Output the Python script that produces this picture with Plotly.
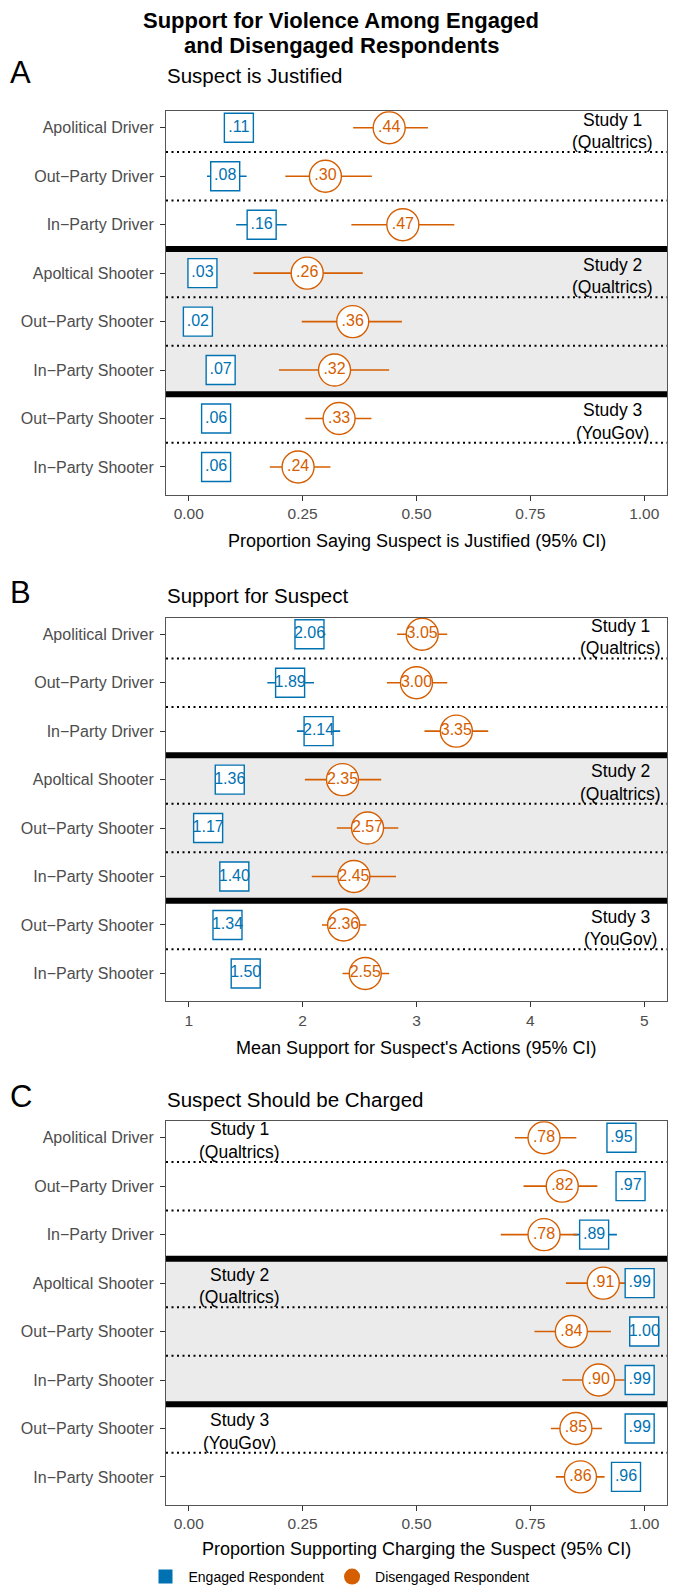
import plotly.graph_objects as go

# ---------------- data ----------------
rows = ["Apolitical Driver", "Out−Party Driver", "In−Party Driver",
        "Apoltical Shooter", "Out−Party Shooter", "In−Party Shooter",
        "Out−Party Shooter", "In−Party Shooter"]
row_pos = [0, 1, 2, 3, 4, 5, 6, 7]

# Panel A: Suspect is Justified (proportion)
eng_a = [0.11, 0.08, 0.16, 0.03, 0.02, 0.07, 0.06, 0.06]
eng_a_lo = [0.08, 0.04, 0.104, 0.01, 0.00, 0.045, 0.035, 0.035]
eng_a_hi = [0.14, 0.127, 0.215, 0.05, 0.04, 0.095, 0.085, 0.085]
dis_a = [0.44, 0.30, 0.47, 0.26, 0.36, 0.32, 0.33, 0.24]
dis_a_lo = [0.361, 0.212, 0.357, 0.142, 0.248, 0.198, 0.256, 0.178]
dis_a_hi = [0.525, 0.402, 0.583, 0.382, 0.468, 0.440, 0.401, 0.311]

# Panel B: Support for Suspect (mean 1-5)
eng_b = [2.06, 1.89, 2.14, 1.36, 1.17, 1.40, 1.34, 1.50]
eng_b_lo = [1.93, 1.69, 1.95, 1.26, 1.08, 1.30, 1.25, 1.40]
eng_b_hi = [2.20, 2.10, 2.33, 1.46, 1.26, 1.50, 1.43, 1.60]
dis_b = [3.05, 3.00, 3.35, 2.35, 2.57, 2.45, 2.36, 2.55]
dis_b_lo = [2.83, 2.74, 3.07, 2.02, 2.30, 2.08, 2.17, 2.35]
dis_b_hi = [3.27, 3.27, 3.63, 2.69, 2.84, 2.82, 2.56, 2.76]

# Panel C: Suspect Should be Charged (proportion)
eng_c = [0.95, 0.97, 0.89, 0.99, 1.00, 0.99, 0.99, 0.96]
eng_c_lo = [0.925, 0.945, 0.844, 0.975, 0.99, 0.975, 0.975, 0.935]
eng_c_hi = [0.975, 0.99, 0.940, 1.00, 1.00, 1.00, 1.00, 0.985]
dis_c = [0.78, 0.82, 0.78, 0.91, 0.84, 0.90, 0.85, 0.86]
dis_c_lo = [0.716, 0.735, 0.685, 0.828, 0.759, 0.820, 0.795, 0.806]
dis_c_hi = [0.851, 0.897, 0.853, 0.960, 0.927, 0.957, 0.907, 0.913]

prop_ticks = [0, 0.25, 0.5, 0.75, 1.0]
prop_ticktext = ["0.00", "0.25", "0.50", "0.75", "1.00"]
mean_ticks = [1, 2, 3, 4, 5]
mean_ticktext = ["1", "2", "3", "4", "5"]

study_labels = [("Study 1", "(Qualtrics)", 0), ("Study 2", "(Qualtrics)", 3), ("Study 3", "(YouGov)", 6)]

# ---------------- style ----------------
PAGE_W, PAGE_H = 683, 1593
OFF = 8                      # default body margin of the html page
W, H = PAGE_W - 2 * OFF, PAGE_H - OFF
BLUE = "#0072B2"
ORANGE = "#D55E00"
FONT = "Liberation Sans"
BAND = "#EBEBEB"
GRAYTXT = "#4D4D4D"

def px(p):
    return (p - OFF) / W

def py(p):
    return 1 - (p - OFF) / H

def fmt_prop(v):
    s = f"{v:.2f}"
    return s[1:] if s.startswith("0") else s

def fmt_mean(v):
    return f"{v:.2f}"

fig = go.Figure()

panels = [
    dict(eng=eng_a, elo=eng_a_lo, ehi=eng_a_hi, dis=dis_a, dlo=dis_a_lo, dhi=dis_a_hi,
         fmt=fmt_prop, top=112, bottom=498, xr=[-0.05, 1.05], tv=prop_ticks, tt=prop_ticktext,
         letter="A", title="Suspect is Justified", title_y=76,
         xtitle="Proportion Saying Suspect is Justified (95% CI)", xtitle_y=545,
         study_x=612),
    dict(eng=eng_b, elo=eng_b_lo, ehi=eng_b_hi, dis=dis_b, dlo=dis_b_lo, dhi=dis_b_hi,
         fmt=fmt_mean, top=622, bottom=1008, xr=[0.8, 5.2], tv=mean_ticks, tt=mean_ticktext,
         letter="B", title="Support for Suspect", title_y=600,
         xtitle="Mean Support for Suspect's Actions (95% CI)", xtitle_y=1055,
         study_x=620),
    dict(eng=eng_c, elo=eng_c_lo, ehi=eng_c_hi, dis=dis_c, dlo=dis_c_lo, dhi=dis_c_hi,
         fmt=fmt_prop, top=1129, bottom=1515, xr=[-0.05, 1.05], tv=prop_ticks, tt=prop_ticktext,
         letter="C", title="Suspect Should be Charged", title_y=1107,
         xtitle="Proportion Supporting Charging the Suspect (95% CI)", xtitle_y=1560,
         study_x=239),
]

X_LEFT, X_RIGHT = 166, 667
Y_TOP_PAD, Y_BOT_PAD = -0.34, 7.57

shapes = []
annotations = []
layout_axes = {}

for i, p in enumerate(panels):
    n = "" if i == 0 else str(i + 1)
    xa, ya = "x" + n, "y" + n
    # CI lines
    for vals, lo, hi, col in [(p["eng"], p["elo"], p["ehi"], BLUE), (p["dis"], p["dlo"], p["dhi"], ORANGE)]:
        xs, ys = [], []
        for r, l, h in zip(row_pos, lo, hi):
            xs += [l, h, None]
            ys += [r, r, None]
        fig.add_trace(go.Scatter(x=xs, y=ys, mode="lines", line=dict(color=col, width=1.6),
                                 xaxis=xa, yaxis=ya, showlegend=False, hoverinfo="skip"))
    # markers with labels
    fig.add_trace(go.Scatter(x=p["dis"], y=row_pos, mode="markers+text",
                             marker=dict(symbol="circle", size=32, color="white",
                                         line=dict(color=ORANGE, width=1.4)),
                             text=[p["fmt"](v) for v in p["dis"]], textposition="middle center",
                             textfont=dict(color=ORANGE, size=16, family=FONT),
                             xaxis=xa, yaxis=ya, showlegend=False))
    fig.add_trace(go.Scatter(x=p["eng"], y=row_pos, mode="markers+text",
                             marker=dict(symbol="square", size=29, color="white",
                                         line=dict(color=BLUE, width=1.4)),
                             text=[p["fmt"](v) for v in p["eng"]], textposition="middle center",
                             textfont=dict(color=BLUE, size=16, family=FONT),
                             xaxis=xa, yaxis=ya, showlegend=False))

    dom_y = [py(p["bottom"]), py(p["top"])]
    layout_axes["xaxis" + n] = dict(domain=[px(X_LEFT), px(X_RIGHT)], range=p["xr"], anchor=ya,
                                    tickvals=p["tv"], ticktext=p["tt"], ticks="outside", ticklen=5,
                                    tickcolor="#333333", tickwidth=1,
                                    tickfont=dict(size=15.5, color=GRAYTXT, family=FONT),
                                    showgrid=False, zeroline=False, showline=True, mirror=True,
                                    linecolor="#555555", linewidth=1)
    layout_axes["yaxis" + n] = dict(domain=dom_y, range=[Y_BOT_PAD, Y_TOP_PAD], anchor=xa,
                                    tickvals=row_pos, ticktext=rows, ticks="outside", ticklen=5,
                                    tickcolor="#333333", tickwidth=1, ticklabelstandoff=3,
                                    tickfont=dict(size=16, color=GRAYTXT, family=FONT),
                                    showgrid=False, zeroline=False, showline=True, mirror=True,
                                    linecolor="#555555", linewidth=1)
    xd = xa + " domain"
    # gray band for study 2
    shapes.append(dict(type="rect", xref=xd, yref=ya, x0=0, x1=1, y0=2.5, y1=5.5,
                       fillcolor=BAND, line=dict(width=0), layer="below"))
    # dotted separators
    for b in [0.5, 1.5, 3.5, 4.5, 6.5]:
        shapes.append(dict(type="line", xref=xd, yref=ya, x0=0, x1=1, y0=b, y1=b,
                           line=dict(color="black", width=2, dash="2px,3.5px"), layer="below"))
    # thick study separators
    for b in [2.5, 5.5]:
        shapes.append(dict(type="line", xref=xd, yref=ya, x0=0, x1=1, y0=b, y1=b,
                           line=dict(color="black", width=6), layer="above"))
    # study labels
    sx = (p["study_x"] - X_LEFT) / (X_RIGHT - X_LEFT)
    for l1, l2, r in study_labels:
        annotations.append(dict(xref=xd, yref=ya, x=sx, y=r - 0.17, text=l1, showarrow=False,
                                xanchor="center", yanchor="middle",
                                font=dict(size=17.5, color="black", family=FONT)))
        annotations.append(dict(xref=xd, yref=ya, x=sx, y=r + 0.29, text=l2, showarrow=False,
                                xanchor="center", yanchor="middle",
                                font=dict(size=17.5, color="black", family=FONT)))
    # panel letter and title
    annotations.append(dict(xref="paper", yref="paper", x=px(8), y=py(p["title_y"] - 3), text=p["letter"],
                            showarrow=False, xanchor="left", yanchor="middle",
                            font=dict(size=31, color="black", family=FONT)))
    annotations.append(dict(xref="paper", yref="paper", x=px(X_LEFT - 1), y=py(p["title_y"]), text=p["title"],
                            showarrow=False, xanchor="left", yanchor="middle",
                            font=dict(size=20.5, color="black", family=FONT)))
    annotations.append(dict(xref="paper", yref="paper", x=px((X_LEFT + X_RIGHT) / 2), y=py(p["xtitle_y"]),
                            text=p["xtitle"], showarrow=False, xanchor="center", yanchor="middle",
                            font=dict(size=18, color="black", family=FONT)))

# main title (two lines)
for txt, yy in [("Support for Violence Among Engaged", 20.5), ("and Disengaged Respondents", 45.5)]:
    annotations.append(dict(xref="paper", yref="paper", x=px(341), y=py(yy),
                            text="<b>" + txt + "</b>",
                            showarrow=False, xanchor="center", yanchor="middle",
                            font=dict(size=22, color="black", family=FONT)))

# legend entries
fig.add_trace(go.Scatter(x=[None], y=[None], mode="markers", name="Engaged Respondent",
                         marker=dict(symbol="square", size=14, color=BLUE), xaxis="x3", yaxis="y3"))
fig.add_trace(go.Scatter(x=[None], y=[None], mode="markers", name="Disengaged Respondent",
                         marker=dict(symbol="circle", size=16, color=ORANGE), xaxis="x3", yaxis="y3"))

fig.update_layout(
    width=W, height=H, margin=dict(l=0, r=0, t=0, b=0),
    plot_bgcolor="white", paper_bgcolor="white",
    font=dict(family=FONT, color="black"),
    shapes=shapes, annotations=annotations,
    showlegend=True,
    legend=dict(orientation="h", x=px(142.5), y=py(1588), xanchor="left", yanchor="middle",
                font=dict(size=14, color="black", family=FONT), bgcolor="rgba(0,0,0,0)",
                itemwidth=36, tracegroupgap=0),
    **layout_axes,
)

fig.write_html("out.html")
